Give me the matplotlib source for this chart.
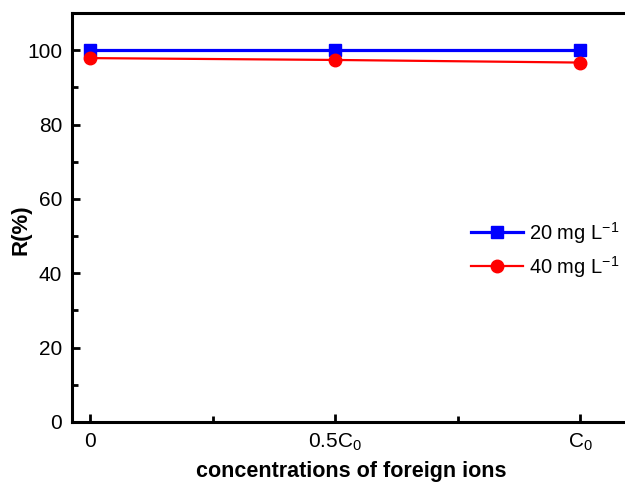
import numpy as np
import matplotlib.pyplot as plt
from matplotlib.ticker import MultipleLocator

plt.rcParams['font.family'] = ['Liberation Sans', 'DejaVu Sans']
plt.rcParams['mathtext.fontset'] = 'custom'
plt.rcParams['mathtext.rm'] = 'Liberation Sans'
plt.rcParams['mathtext.it'] = 'Liberation Sans'

# data
x_labels = ['0', '0.5C$_0$', 'C$_0$']
r_20 = [100.0, 100.0, 100.0]
r_40 = [97.9, 97.4, 96.7]
names = ['20 mg L$^{-1}$', '40 mg L$^{-1}$']

x = np.arange(len(x_labels))

fig = plt.figure(figsize=(6.25, 4.86), dpi=100)
ax = fig.add_axes([0.1152, 0.1317, 0.895, 0.8413])

ax.plot(x, r_20, '-s', color='#0000ff', lw=2.3, ms=8, label=names[0])
ax.plot(x, r_40, '-o', color='#ff0000', lw=1.6, ms=9, label=names[1])

ax.set_xlim(-0.0735, 2.209)
ax.set_ylim(0, 110)
ax.set_xticks(x)
ax.set_xticklabels(x_labels)
ax.xaxis.set_minor_locator(MultipleLocator(0.5))
ax.yaxis.set_major_locator(MultipleLocator(20))
ax.yaxis.set_minor_locator(MultipleLocator(10))
ax.tick_params(which='both', direction='in', width=2, labelsize=15, pad=7)
ax.tick_params(which='major', length=6)
ax.tick_params(which='minor', length=4)
for s in ax.spines.values():
    s.set_linewidth(2.2)

ax.set_xlabel('concentrations of foreign ions', fontsize=15.5, fontweight='bold', labelpad=6)
fig.text(0.033, 0.527, 'R(%)', rotation=90, ha='center', va='center',
         fontsize=16, fontweight='bold')

ax.legend(loc='upper left', bbox_to_anchor=(0.724, 0.585), bbox_transform=fig.transFigure,
          frameon=False, fontsize=14.5, handlelength=2.6, handletextpad=0.3, labelspacing=0.4)

fig.savefig('out.png', dpi=100)
